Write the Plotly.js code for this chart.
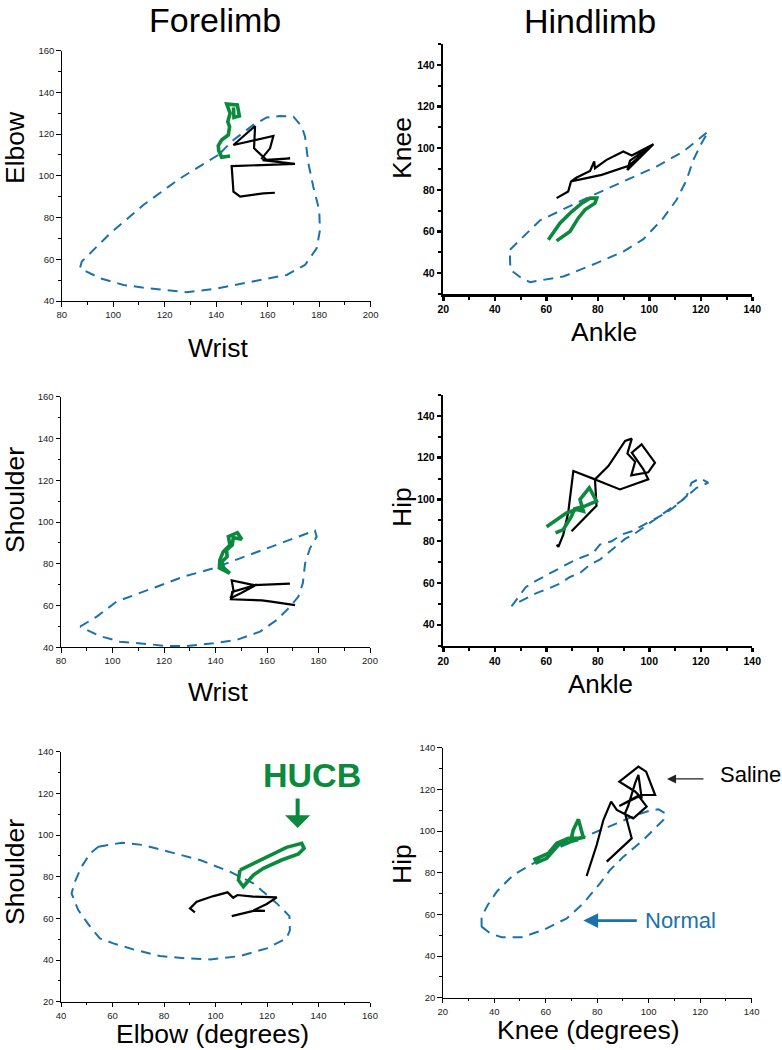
<!DOCTYPE html>
<html>
<head>
<meta charset="utf-8">
<script src="https://cdn.plot.ly/plotly-3.0.1.min.js"></script>
<style>html,body{margin:0;padding:0;background:#fff;}#chart{width:782px;height:1050px;}</style>
</head>
<body>
<div id="chart"></div>
<script>
// Panel 1: Forelimb, Wrist (x) vs Elbow (y)
const p1NormalWrist = [140.8,126,111.7,98.8,87.8,87.1,94.9,104,114.3,128.5,140.2,154.4,167.4,174.5,179,180.3,180,177.7,175.8,174.5,173.2,170,164.8,159.6,154.4,146.7,140.8];
const p1NormalElbow = [110,98.8,86,72.4,58.9,55.7,50.9,47.7,46,44.2,46,49.3,52.5,57.3,65.2,74,83.6,94.8,106,118.8,123.6,128.4,128.7,128,124.4,117.2,110];
const p1SalineWrist = [157.5,160.9,162.2,146.7,155.1,154.7,159.6,168.7,158,170.6,146,146.7,149.3,158.3,162.8];
const p1SalineElbow = [108,113.2,119.1,114.8,123.9,113.2,107.6,108.4,107.5,105.7,104.7,92.4,90,91.6,91.9];
const p1HucbWrist = [145.4,142.1,141,140.8,142.1,144.7,145.2,144.5,145.4,144.1,148.2,149,146.9,146.7];
const p1HucbElbow = [109.5,108.9,112,114.5,117.2,119.6,123.6,126,130,134.4,134,128.7,128,132.8];

// Panel 2: Hindlimb, Ankle (x) vs Knee (y)
const p2NormalAnkle = [45.9,57.5,77,89.9,102.8,113.2,122.9,120.3,117.1,114.5,110.6,105.4,97.7,89.9,79.5,66.6,60.1,53.7,50.4,46.1,45.9,45.9];
const p2NormalKnee = [51.2,65.3,76.8,84,91.2,98.4,108,102.4,94.4,84.8,75.2,66.4,56.3,50.4,44.8,38.4,37.1,35.7,37.6,41.6,46.4,51.2];
const p2SalineAnkle = [64,68.5,69.6,71.8,77,78.6,78.9,83.4,89.9,93.2,101.6,91.5,92.5,101.6,92,81.5,72.4,69.5];
const p2SalineKnee = [76,79.2,84,85.9,89.1,93.6,90.4,94.4,98.4,96.5,101.9,89.5,94,101.9,91.5,87.2,84.8,84];
const p2HucbAnkle = [60.8,65.3,69.9,73.8,77,79.6,78.9,75,72.4,69.2,64];
const p2HucbKnee = [56,64,69.6,73.6,76,76,73.6,70.4,66.4,60,55.5];

// Panel 3: Forelimb, Wrist (x) vs Shoulder (y)
const p3NormalWrist = [87.4,93.9,101.6,108.1,117.2,127.5,139.2,149.5,159.9,169,178.6,179.3,176.7,174.8,173.9,172.2,169,163.8,157.3,148.2,139.2,128.8,121,113.3,102.9,95.1,87.4];
const p3NormalShoulder = [49.9,54.7,61.9,65,69,73.8,77.8,82.6,87.4,91.4,95.9,93,87.4,80.2,70.6,64.3,59.5,53.1,47.5,43.5,41.9,40.6,40.6,41.6,42.7,45.4,49.9];
const p3SalineWrist = [168.9,160,155,146.3,147,145.8,150,156,146.5,146,158,161,170.9];
const p3SalineShoulder = [70.5,70.2,69.8,72,67,63.5,66,70,66.5,63,62.5,62,60.2];
const p3HucbWrist = [145.6,141.5,141.7,143,145.6,145,148.5,150.2,146.9,146.5,144.3,144.5,142.5,143.2,145.6];
const p3HucbShoulder = [75.4,78,81.8,85.8,89,93,94.9,91.7,92.5,89,86.6,83.4,81,78,75.4];

// Panel 4: Hindlimb, Ankle (x) vs Hip (y)
const p4NormalAnkle = [46.5,52,55.6,59.5,63.4,66.6,71.1,78.3,80.8,85.4,89.3,93.2,97,101.6,105.4,109.3,114.5,116.4,119.7,122.9,118.4,113.2,105,93.8,90.6,84,80.8,77,73.1,69.2,65.3,61.4,56.2,46.5];
const p4NormalHip = [48.8,58,60.8,63.4,65.6,67.8,71,74.5,78.4,80,83.2,84.8,87.2,90.4,92.8,96,101.6,108,110.1,108,105.6,100,93,83.2,81.1,74.5,71.2,68.8,64.8,62.9,59.7,57.6,55.2,49.1];
const p4SalineAnkle = [64,64.7,66.6,68.5,70.5,78.9,84.1,90.6,93.2,91.5,94.5,93,99.6,102.2,97,93.2,97.7,99.6,88.6,78.9,79.5,69.8];
const p4SalineHip = [78.4,77.3,83.2,93.6,113.6,109.6,116,128,129.1,122,118,111.5,113,117.6,126.4,122.4,114.4,109.6,104.8,109.6,97,84.8];
const p4HucbAnkle = [60.1,67.9,71.8,74.4,73.1,76.7,79.5,75,71,69.8,66.6,63.6];
const p4HucbHip = [86.9,93.6,95.2,94.4,100,105.6,99.2,96.8,95.5,92,85.6,84];

// Panel 5: Forelimb, Elbow (x) vs Shoulder (y)
const p5NormalElbow = [54.5,63.6,72,82.3,94,105.6,114.7,123.8,128.7,128.9,127.6,119.9,109.5,97.9,88.8,78.4,68.1,60.3,55.1,51.3,46.7,44.1,45.4,48,51.3,54.5];
const p5NormalShoulder = [94.4,96.3,95.2,92,88,82.4,76.8,67.2,61.1,54.4,50.4,45.6,41.9,40.3,40.8,41.9,45.1,48,50.4,56,64,72,77.6,84.8,91.2,94.4];
const p5SalineElbow = [92,90.1,92.7,99.2,104.7,106.9,108.5,114.7,123.8,119.9,114.7,119.2,114.7,106.3];
const p5SalineShoulder = [62.9,64.8,68,70.7,72.5,69.9,71.2,70.4,70.1,66.9,63.8,63.6,63.6,61.1];
const p5HucbElbow = [109.5,116,122.5,127.6,133.5,134.4,132.2,125.7,118.6,114.7,112.1,110.8,108.9,109.5];
const p5HucbShoulder = [83.2,87.2,91.2,94.1,96,93.6,90.9,88,84,80.8,77.1,75.2,78.4,83.2];

// Panel 6: Hindlimb, Knee (x) vs Hip (y)
const p6NormalKnee = [35.1,38.4,42.9,50.7,59.1,68.2,74.6,81.1,85,90.2,97.9,105.7,106.4,103.8,100.5,95.3,87.6,79.8,72,64.3,55.2,47.4,41,37.5,35.1,35.1];
const p6NormalHip = [54.1,50.9,49,49,52.5,58.1,65.3,74.9,81.3,87.7,95.7,105.3,108.5,110.4,109.8,107.7,103.7,99.7,96,91.7,84.5,78.9,70.9,64.5,58.9,54.1];
const p6SalineKnee = [75.9,78.5,79.8,82.4,85.4,87.6,90.2,94,99.2,96,88.6,97.3,102.5,99,96,88.6,94.7,97.3,96,94.7,92,90.8,93.4,83.7];
const p6SalineHip = [78.4,87.7,93.3,105.3,114.1,110.1,108.5,106.1,111.7,117,112,117.3,117.3,128.5,130.9,123.7,119,115.7,127,122.9,112,108.5,96.5,85.3];
const p6HucbKnee = [55.2,61,64.3,68.8,72.7,74.6,74,72.7,70.7,70.1,71.5,64.9,60.4,55.9];
const p6HucbHip = [86.1,89.3,94.1,96.5,96.5,97,99.7,105.6,100.5,97.3,95.5,93.3,86.9,84.5];

const BLUE = '#1b72aa', GREEN = '#0b8a3d', BLACK = '#000000';
const W = 782, H = 1050;
const FONT = '"Liberation Sans", Arial, sans-serif';

function trio(nx, ny, sx, sy, hx, hy, k) {
  const xa = k === 1 ? 'x' : 'x' + k, ya = k === 1 ? 'y' : 'y' + k;
  return [
    {x: nx, y: ny, xaxis: xa, yaxis: ya, mode: 'lines', name: 'Normal',
     line: {color: BLUE, width: 2, dash: '10px,7px'}, hoverinfo: 'skip'},
    {x: sx, y: sy, xaxis: xa, yaxis: ya, mode: 'lines', name: 'Saline',
     line: {color: BLACK, width: 2.2}, hoverinfo: 'skip'},
    {x: hx, y: hy, xaxis: xa, yaxis: ya, mode: 'lines', name: 'HUCB',
     line: {color: GREEN, width: 3.6}, hoverinfo: 'skip'}
  ];
}

const data = [].concat(
  trio(p1NormalWrist, p1NormalElbow, p1SalineWrist, p1SalineElbow, p1HucbWrist, p1HucbElbow, 1),
  trio(p2NormalAnkle, p2NormalKnee, p2SalineAnkle, p2SalineKnee, p2HucbAnkle, p2HucbKnee, 2),
  trio(p3NormalWrist, p3NormalShoulder, p3SalineWrist, p3SalineShoulder, p3HucbWrist, p3HucbShoulder, 3),
  trio(p4NormalAnkle, p4NormalHip, p4SalineAnkle, p4SalineHip, p4HucbAnkle, p4HucbHip, 4),
  trio(p5NormalElbow, p5NormalShoulder, p5SalineElbow, p5SalineShoulder, p5HucbElbow, p5HucbShoulder, 5),
  trio(p6NormalKnee, p6NormalHip, p6SalineKnee, p6SalineHip, p6HucbKnee, p6HucbHip, 6)
);

// pixel boxes -> paper domains
function dx(a, b) { return [a / W, b / W]; }
function dy(top, bot) { return [1 - bot / H, 1 - top / H]; }

function thinAxis(range, domain, anchor) {
  return {range: range, domain: domain, anchor: anchor, dtick: 20, tick0: 0,
    showline: true, linecolor: '#000', linewidth: 1, ticks: 'outside', ticklen: 4.5,
    tickwidth: 1, tickcolor: '#000', showgrid: false, zeroline: false, fixedrange: true,
    minor: {ticks: 'outside', dtick: 10, ticklen: 2.5, tickwidth: 1, tickcolor: '#000', showgrid: false},
    tickfont: {family: FONT, size: 9.5, color: '#222'}};
}
function boldAxis(range, domain, anchor) {
  return {range: range, domain: domain, anchor: anchor, dtick: 20, tick0: 0,
    showline: true, linecolor: '#000', linewidth: 2.5, ticks: 'outside', ticklen: 4,
    tickwidth: 2.5, tickcolor: '#000', showgrid: false, zeroline: false, fixedrange: true,
    minor: {ticks: 'outside', dtick: 10, ticklen: 3, tickwidth: 2, tickcolor: '#000', showgrid: false},
    tickfont: {family: FONT, size: 10.5, color: '#000', weight: 'bold'}};
}

const layout = {
  width: W, height: H, margin: {l: 0, r: 0, t: 0, b: 0},
  paper_bgcolor: '#fff', plot_bgcolor: '#fff', showlegend: false,
  xaxis:  thinAxis([80, 200], dx(61.7, 370.7), 'y'),
  yaxis:  thinAxis([40, 160], dy(50.7, 301), 'x'),
  xaxis2: boldAxis([20, 140], dx(443.3, 752.3), 'y2'),
  yaxis2: boldAxis([30, 150], dy(44, 294), 'x2'),
  xaxis3: thinAxis([80, 200], dx(61, 370), 'y3'),
  yaxis3: thinAxis([40, 160], dy(396.7, 647.3), 'x3'),
  xaxis4: boldAxis([20, 140], dx(443.3, 752.3), 'y4'),
  yaxis4: boldAxis([30, 150], dy(395, 645.7), 'x4'),
  xaxis5: thinAxis([40, 160], dx(61, 370), 'y5'),
  yaxis5: thinAxis([20, 140], dy(751.7, 1001.7), 'x5'),
  xaxis6: thinAxis([20, 140], dx(442.7, 751.7), 'y6'),
  yaxis6: thinAxis([20, 140], dy(747.7, 997.7), 'x6'),
  annotations: []
};

function ptext(text, px, py, size, opts) {
  return Object.assign({text: text, xref: 'paper', yref: 'paper', x: px / W, y: 1 - py / H,
    xanchor: 'center', yanchor: 'middle', showarrow: false,
    font: {family: FONT, size: size, color: '#000'}}, opts || {});
}

const A = layout.annotations;
// column titles
A.push(ptext('Forelimb', 215, 20, 34));
A.push(ptext('Hindlimb', 590, 21, 34));
// axis titles
const AX = 26.5;
A.push(ptext('Elbow', 15, 148, AX, {textangle: -90}));
A.push(ptext('Wrist', 218, 348, AX));
A.push(ptext('Knee', 402, 148, AX, {textangle: -90}));
A.push(ptext('Ankle', 604, 332, AX));
A.push(ptext('Shoulder', 15, 500, AX, {textangle: -90}));
A.push(ptext('Wrist', 218, 692, AX));
A.push(ptext('Hip', 402, 507, AX, {textangle: -90}));
A.push(ptext('Ankle', 600, 684, 26));
A.push(ptext('Shoulder', 15, 872, AX, {textangle: -90}));
A.push(ptext('Elbow (degrees)', 212, 1034, AX));
A.push(ptext('Hip', 402, 864, AX, {textangle: -90}));
A.push(ptext('Knee (degrees)', 588, 1030, AX));

// HUCB label and arrow (panel 5)
A.push({text: '<b>HUCB</b>', xref: 'x5', yref: 'y5', x: 137.5, y: 128.8, showarrow: false,
  xanchor: 'center', yanchor: 'middle', font: {family: FONT, size: 34, color: GREEN}});
A.push({text: '', xref: 'x5', yref: 'y5', x: 131.9, y: 103.4, ax: 0, ay: -31,
  showarrow: true, arrowhead: 1, arrowsize: 1.05, arrowwidth: 4, arrowcolor: GREEN, standoff: 0});
// Saline label and arrow (panel 6)
A.push({text: 'Saline', xref: 'x6', yref: 'y6', x: 126.9, y: 127.2, showarrow: false,
  xanchor: 'left', yanchor: 'middle', font: {family: FONT, size: 22, color: '#000'}});
A.push({text: '', xref: 'x6', yref: 'y6', x: 107.1, y: 125, ax: 38, ay: 0,
  showarrow: true, arrowhead: 2, arrowsize: 1.4, arrowwidth: 1.3, arrowcolor: '#222', standoff: 0});
// Normal label and arrow (panel 6)
A.push({text: 'Normal', xref: 'x6', yref: 'y6', x: 97.8, y: 57, showarrow: false,
  xanchor: 'left', yanchor: 'middle', font: {family: FONT, size: 22, color: BLUE}});
A.push({text: '', xref: 'x6', yref: 'y6', x: 74.6, y: 57, ax: 55, ay: 0,
  showarrow: true, arrowhead: 2, arrowsize: 1.1, arrowwidth: 2.7, arrowcolor: BLUE, standoff: 0});

Plotly.newPlot('chart', data, layout, {staticPlot: true, displayModeBar: false});
</script>
</body>
</html>
